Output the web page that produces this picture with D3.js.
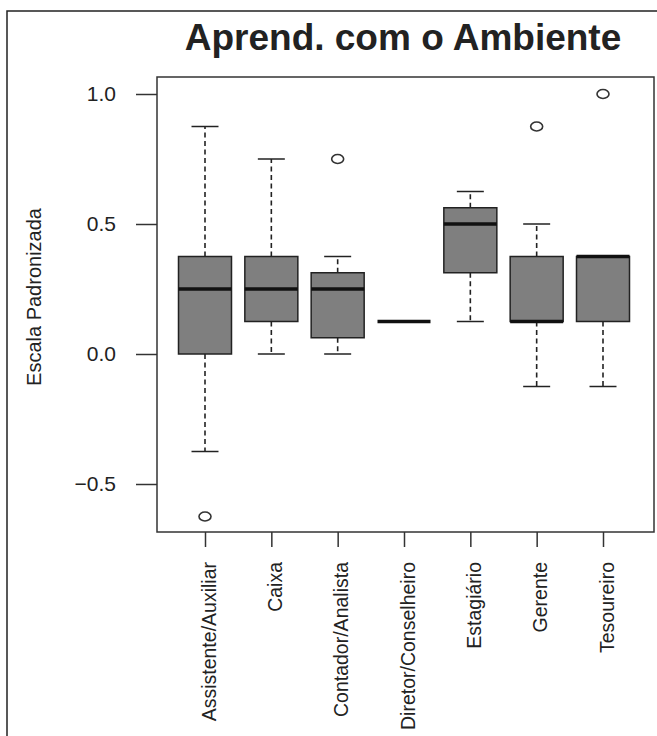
<!DOCTYPE html>
<html lang="pt">
  <head>
    <meta charset="UTF-8" />
    <title>Aprend. com o Ambiente</title>
    <style>
      body {
        margin: 0;
        background: #fff;
      }
      svg text {
        font-family: 'Liberation Sans', Arial, Helvetica, sans-serif;
        fill: #222;
      }
    </style>
  </head>
  <body>
    <svg id="svg" width="657" height="736"></svg>

    <script src="https://cdn.jsdelivr.net/npm/d3@7/dist/d3.min.js"></script>
    <script>
      // Boxplot stats
      const categories = [
        'Assistente/Auxiliar',
        'Caixa',
        'Contador/Analista',
        'Diretor/Conselheiro',
        'Estagiário',
        'Gerente',
        'Tesoureiro'
      ];
      const lowerWhisker = [-0.375, 0, 0, 0.125, 0.125, -0.125, -0.125];
      const q1 = [0, 0.125, 0.0625, 0.125, 0.3125, 0.125, 0.125];
      const medians = [0.25, 0.25, 0.25, 0.125, 0.5, 0.125, 0.375];
      const q3 = [0.375, 0.375, 0.3125, 0.125, 0.5625, 0.375, 0.375];
      const upperWhisker = [0.875, 0.75, 0.375, 0.125, 0.625, 0.5, 0.375];
      const outliers = [[-0.625], [], [0.75], [], [], [0.875], [1.0]];
      const yTicks = [-0.5, 0.0, 0.5, 1.0];

      const svg = d3.select('#svg');

      // outer frame (runs off the picture on the right and bottom)
      svg.append('rect')
        .attr('x', 7).attr('y', 11)
        .attr('width', 700).attr('height', 800)
        .attr('fill', 'none').attr('stroke', '#222').attr('stroke-width', 1.5);

      const plot = { left: 157, right: 654, top: 77, bottom: 532 };

      const x = d3.scalePoint().domain(categories).range([205, 603]);
      const y = d3.scaleLinear().domain([0, 1]).range([354, 94]);
      const boxW = 53;
      const capW = 27;

      // title
      svg.append('text')
        .attr('x', 403).attr('y', 50)
        .attr('text-anchor', 'middle')
        .style('font-size', '37px')
        .style('font-weight', 'bold')
        .text('Aprend. com o Ambiente');

      // y label
      svg.append('text')
        .attr('transform', 'translate(41,297) rotate(-90)')
        .attr('text-anchor', 'middle')
        .style('font-size', '20px')
        .text('Escala Padronizada');

      // y axis
      const yAxis = d3.axisLeft(y)
        .tickValues(yTicks)
        .tickFormat(d3.format('.1f'))
        .tickSize(21)
        .tickPadding(20);
      const gy = svg.append('g')
        .attr('transform', `translate(${plot.left},0)`)
        .call(yAxis);
      gy.select('.domain').remove();
      gy.selectAll('line').attr('stroke', '#333').attr('stroke-width', 1.5);
      gy.selectAll('text').style('font-size', '21px').attr('fill', '#1a1a1a');

      // x axis
      const xAxis = d3.axisBottom(x).tickSize(15).tickSizeOuter(0);
      const gx = svg.append('g')
        .attr('transform', `translate(0,${plot.bottom})`)
        .call(xAxis);
      gx.select('.domain').remove();
      gx.selectAll('line').attr('stroke', '#333').attr('stroke-width', 1.5);
      gx.selectAll('text')
        .attr('transform', 'translate(10,30) rotate(-90)')
        .attr('x', 0).attr('y', 0).attr('dy', 0)
        .attr('text-anchor', 'end')
        .style('font-size', '19.5px')
        .attr('fill', '#222');

      // plot frame
      svg.append('rect')
        .attr('x', plot.left).attr('y', plot.top)
        .attr('width', plot.right - plot.left)
        .attr('height', plot.bottom - plot.top)
        .attr('fill', 'none').attr('stroke', '#333').attr('stroke-width', 1.5);

      const rows = categories.map((c, i) => ({
        c, lo: lowerWhisker[i], q1: q1[i], med: medians[i], q3: q3[i], hi: upperWhisker[i], out: outliers[i]
      }));

      const g = svg.append('g');
      const box = g.selectAll('g.box').data(rows).enter().append('g').attr('class', 'box');

      // whiskers
      box.filter((d) => d.hi > d.q3).append('line')
        .attr('x1', (d) => x(d.c)).attr('x2', (d) => x(d.c))
        .attr('y1', (d) => y(d.q3)).attr('y2', (d) => y(d.hi))
        .attr('stroke', '#222').attr('stroke-width', 1.6).attr('stroke-dasharray', '5,3.5');
      box.filter((d) => d.lo < d.q1).append('line')
        .attr('x1', (d) => x(d.c)).attr('x2', (d) => x(d.c))
        .attr('y1', (d) => y(d.q1)).attr('y2', (d) => y(d.lo))
        .attr('stroke', '#222').attr('stroke-width', 1.6).attr('stroke-dasharray', '5,3.5');
      // caps
      box.filter((d) => d.hi > d.q3).append('line')
        .attr('x1', (d) => x(d.c) - capW / 2).attr('x2', (d) => x(d.c) + capW / 2)
        .attr('y1', (d) => y(d.hi)).attr('y2', (d) => y(d.hi))
        .attr('stroke', '#222').attr('stroke-width', 1.5);
      box.filter((d) => d.lo < d.q1).append('line')
        .attr('x1', (d) => x(d.c) - capW / 2).attr('x2', (d) => x(d.c) + capW / 2)
        .attr('y1', (d) => y(d.lo)).attr('y2', (d) => y(d.lo))
        .attr('stroke', '#222').attr('stroke-width', 1.5);

      // boxes
      box.append('rect')
        .attr('x', (d) => x(d.c) - boxW / 2)
        .attr('y', (d) => y(d.q3))
        .attr('width', boxW)
        .attr('height', (d) => y(d.q1) - y(d.q3))
        .attr('fill', '#7f7f7f')
        .attr('stroke', '#222').attr('stroke-width', 1.5);

      // medians
      box.append('line')
        .attr('x1', (d) => x(d.c) - boxW / 2).attr('x2', (d) => x(d.c) + boxW / 2)
        .attr('y1', (d) => y(d.med)).attr('y2', (d) => y(d.med))
        .attr('stroke', '#111').attr('stroke-width', 3.5);

      // outliers
      box.selectAll('ellipse')
        .data((d) => d.out.map((v) => ({ c: d.c, v })))
        .enter().append('ellipse')
        .attr('cx', (d) => x(d.c)).attr('cy', (d) => y(d.v))
        .attr('rx', 6).attr('ry', 4.5)
        .attr('fill', 'none').attr('stroke', '#333').attr('stroke-width', 1.6);
    </script>
  </body>
</html>
